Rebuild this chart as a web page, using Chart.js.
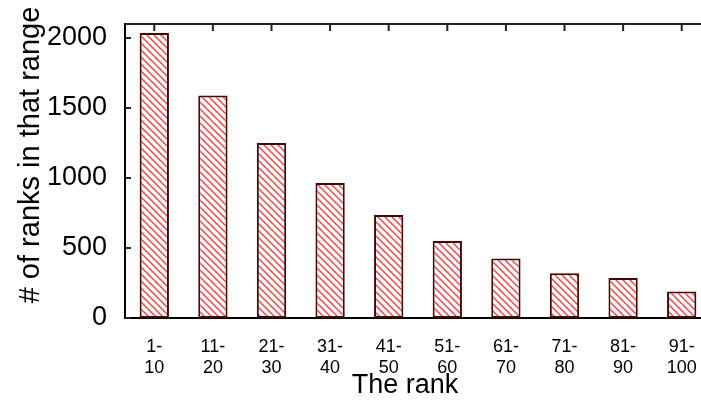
<!DOCTYPE html>
<html>
<head>
<meta charset="utf-8">
<script src="https://cdn.jsdelivr.net/npm/chart.js@4.4.0/dist/chart.umd.min.js"></script>
<style>
  html, body { margin: 0; padding: 0; background: #fff; overflow: hidden; }
  #wrap { position: relative; width: 720px; height: 403px; }
</style>
</head>
<body>
<div id="wrap"><canvas id="rankChart"></canvas></div>
<script>
// data
const rankRanges = [['1-', '10'], ['11-', '20'], ['21-', '30'], ['31-', '40'], ['41-', '50'],
                    ['51-', '60'], ['61-', '70'], ['71-', '80'], ['81-', '90'], ['91-', '100']];
const rankCounts = [2035, 1590, 1250, 965, 735, 550, 425, 320, 285, 190];
const yTickValues = [0, 500, 1000, 1500, 2000];
const yTitle = '# of ranks in that range';
const xTitle = 'The rank';

const FONT = '"Liberation Sans", Arial, sans-serif';

function hatch() {
  const s = 7;
  const c = document.createElement('canvas');
  c.width = s; c.height = s;
  const g = c.getContext('2d');
  g.fillStyle = '#fff';
  g.fillRect(0, 0, s, s);
  g.strokeStyle = '#ff3c3c';
  g.lineWidth = 1.4;
  g.beginPath();
  g.moveTo(-1, -1); g.lineTo(s + 1, s + 1);
  g.moveTo(-1, s - 1); g.lineTo(1, s + 1);
  g.moveTo(s - 1, -1); g.lineTo(s + 1, 1);
  g.stroke();
  return g.createPattern(c, 'repeat');
}

// inward ticks, top frame line and the two axis titles
const frame = {
  id: 'frame',
  afterDraw(chart) {
    const { ctx, chartArea: a, scales: { x, y } } = chart;
    ctx.save();
    ctx.strokeStyle = '#222';
    ctx.lineWidth = 2;
    ctx.beginPath();
    ctx.moveTo(a.left, a.top); ctx.lineTo(a.right, a.top);
    yTickValues.forEach(v => {
      const py = y.getPixelForValue(v);
      ctx.moveTo(a.left, py); ctx.lineTo(a.left + 6, py);
    });
    rankCounts.forEach((_, i) => {
      const px = x.getPixelForValue(i);
      ctx.moveTo(px, a.top); ctx.lineTo(px, a.top + 7);
    });
    ctx.stroke();

    ctx.fillStyle = '#000';
    ctx.textAlign = 'center';
    ctx.textBaseline = 'middle';
    ctx.font = '27px ' + FONT;
    ctx.fillText(xTitle, 405, 386);
    ctx.font = '29px ' + FONT;
    ctx.translate(31, 155);
    ctx.rotate(-Math.PI / 2);
    ctx.fillText(yTitle, 0, 0);
    ctx.restore();
  }
};

new Chart(document.getElementById('rankChart'), {
  type: 'bar',
  data: {
    labels: rankRanges,
    datasets: [{
      data: rankCounts,
      backgroundColor: hatch(),
      borderColor: '#3f0a0a',
      borderWidth: 2,
      borderSkipped: false,
      categoryPercentage: 0.5,
      barPercentage: 1
    }]
  },
  options: {
    responsive: true,
    maintainAspectRatio: false,
    animation: false,
    layout: { padding: { top: 24, right: 9, left: 0, bottom: 0 } },
    plugins: { legend: { display: false }, tooltip: { enabled: false } },
    scales: {
      x: {
        grid: { display: false, drawTicks: false },
        border: { display: true, color: '#000', width: 2 },
        ticks: {
          color: '#000',
          padding: 18,
          maxRotation: 0,
          autoSkip: false,
          font: { family: FONT, size: 18, lineHeight: 1.2 }
        },
        afterFit: s => { s.height = 85; }
      },
      y: {
        min: 0,
        max: 2100,
        grid: { display: false, drawTicks: false },
        border: { display: true, color: '#000', width: 2 },
        afterBuildTicks: s => { s.ticks = yTickValues.map(v => ({ value: v })); },
        ticks: {
          color: '#000',
          padding: 18,
          callback: v => String(v),
          font: { family: FONT, size: 27 }
        },
        afterFit: s => { s.width = 125; s.paddingTop = 0; s.paddingBottom = 0; }
      }
    }
  },
  plugins: [frame]
});
</script>
</body>
</html>
